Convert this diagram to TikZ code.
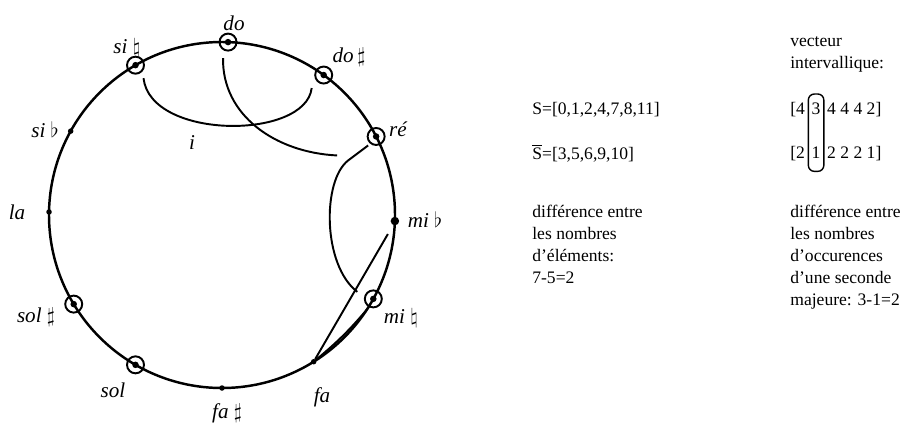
\documentclass[tikz,border=0pt]{standalone}
\usepackage{fontspec}
\setmainfont{Liberation Serif}
\usetikzlibrary{calc, positioning}
\tikzset{
    pitch/.style={circle, fill=black, inner sep=0, minimum size=0.11cm},
    bigpitch/.style={circle, fill=black, inner sep=0, minimum size=0.17cm},
    ringed/.style={circle, draw, line width=1.1pt, inner sep=0, minimum size=0.34cm,
        path picture={\fill (path picture bounding box.center) circle (0.065cm);}},
    notename/.style={font=\fontsize{12}{14}\selectfont\itshape, inner sep=0},
    txt/.style={font=\fontsize{10}{12.5}\selectfont, align=left, inner sep=0},
    link/.style={line width=1.1pt},
    }

\begin{document}
\begin{tikzpicture}[x=0.02cm, y=-0.02cm]
    \useasboundingbox (0,0) rectangle (906,430);

    % chromatic circle
    \coordinate (ctr) at (222,215);
    \draw[line width=1.4pt] (ctr) circle (173);

    % pitches: S circled, complement as plain dots
    \node[ringed]   (do)   at ($(ctr)+(-88:173)$) {};
    \node[ringed]   (dodi) at ($(ctr)+(-54:173)$) {};
    \node[ringed]   (re)   at ($(ctr)+(-27:173)$) {};
    \node[bigpitch] (mib)  at ($(ctr)+(2:173)$) {};
    \node[ringed]   (mi)   at ($(ctr)+(29:173)$) {};
    \node[pitch]    (fa)   at ($(ctr)+(58:173)$) {};
    \node[pitch]    (fadi) at ($(ctr)+(90:173)$) {};
    \node[ringed]   (sol)  at ($(ctr)+(120:173)$) {};
    \node[ringed]   (soldi) at ($(ctr)+(149:173)$) {};
    \node[pitch]    (la)   at ($(ctr)+(181:173)$) {};
    \node[pitch]    (sib)  at ($(ctr)+(209:173)$) {};
    \node[ringed]   (si)   at ($(ctr)+(240:173)$) {};

    % note names
    \node[notename] (tdo)    at (234,23)  {do};
    \node[notename] (tdodi)  at (349,57)  {do\,$\sharp$};
    \node[notename] (tre)    at (398,129) {ré};
    \node[notename] (tmib)   at (425,220) {mi $\flat$};
    \node[notename] (tmi)    at (401,318) {mi $\natural$};
    \node[notename] (tfa)    at (322,397) {fa};
    \node[notename] (tfadi)  at (227,413) {fa $\sharp$};
    \node[notename] (tsol)   at (113,390) {sol};
    \node[notename] (tsoldi) at (36,317)  {sol $\sharp$};
    \node[notename] (tla)    at (17,212)  {la};
    \node[notename] (tsib)   at (45,130)  {si $\flat$};
    \node[notename] (tsi)    at (127,48)  {si $\natural$};
    \node[notename] (ti)     at (192,143) {i};

    % inversion arcs
    \coordinate (c1a) at ($(si)+(8,13)$);
    \coordinate (c1b) at ($(dodi)+(-12,13)$);
    \draw[link] (c1a) .. controls +(7,62) and +(-6,52) .. (c1b);

    \coordinate (c2a) at ($(do)+(-5,16)$);
    \coordinate (c2b) at ($(re)+(-39,19)$);
    \draw[link] (c2a) .. controls +(-1,57) and +(-62,-3) .. (c2b);

    \coordinate (c3a) at ($(mi)+(-16,-7)$);
    \coordinate (c3b) at ($(re)+(-28,24)$);
    \coordinate (c3c) at ($(re)+(-8,9)$);
    \draw[link] (c3a) .. controls +(-35,-27) and +(-26,20) .. (c3b) -- (c3c);

    \coordinate (c4a) at ($(mib)+(-7,13)$);
    \draw[link] (c4a) -- (fa);

    \coordinate (c5a) at ($(mi)+(-5,9)$);
    \draw[link] (c5a) to[bend left=5] (fa);

    % sets (base anchor of a multi-line node = last line)
    \node[txt, anchor=base west] (setS) at (532,114) {S=[0,1,2,4,7,8,11]};
    \node[txt, anchor=base west] (setC) at (532,159) {$\overline{\hbox{S}}$=[3,5,6,9,10]};
    \node[txt, anchor=base west] (diffL) at (532,283) {différence entre\\les nombres\\d'éléments:\\7-5=2};

    % interval vectors
    \node[txt, anchor=base west] (vect) at (790,68) {vecteur\\intervallique:};
    \node[txt, anchor=base west] (ivS)  at (790,114) {[4};
    \node[txt, anchor=base west] (ivS3) at ($(ivS.base east)+(6,0)$) {3};
    \node[txt, anchor=base west] (ivSr) at ($(ivS3.base east)+(6,0)$) {4 4 4 2]};
    \node[txt, anchor=base west] (ivT)  at (790,158) {[2};
    \node[txt, anchor=base west] (ivT1) at ($(ivT.base east)+(6,0)$) {1};
    \node[txt, anchor=base west] (ivTr) at ($(ivT1.base east)+(6,0)$) {2 2 2 1]};
    \draw[line width=0.8pt, rounded corners=0.12cm]
        ($(ivS3.north west)+(-3,-8)$) rectangle ($(ivT1.south east)+(3,13)$);
    \node[txt, anchor=base west] (diffR) at (790,305) {différence entre\\les nombres\\d'occurences\\d'une seconde\\majeure: 3-1=2};

\end{tikzpicture}
\end{document}
